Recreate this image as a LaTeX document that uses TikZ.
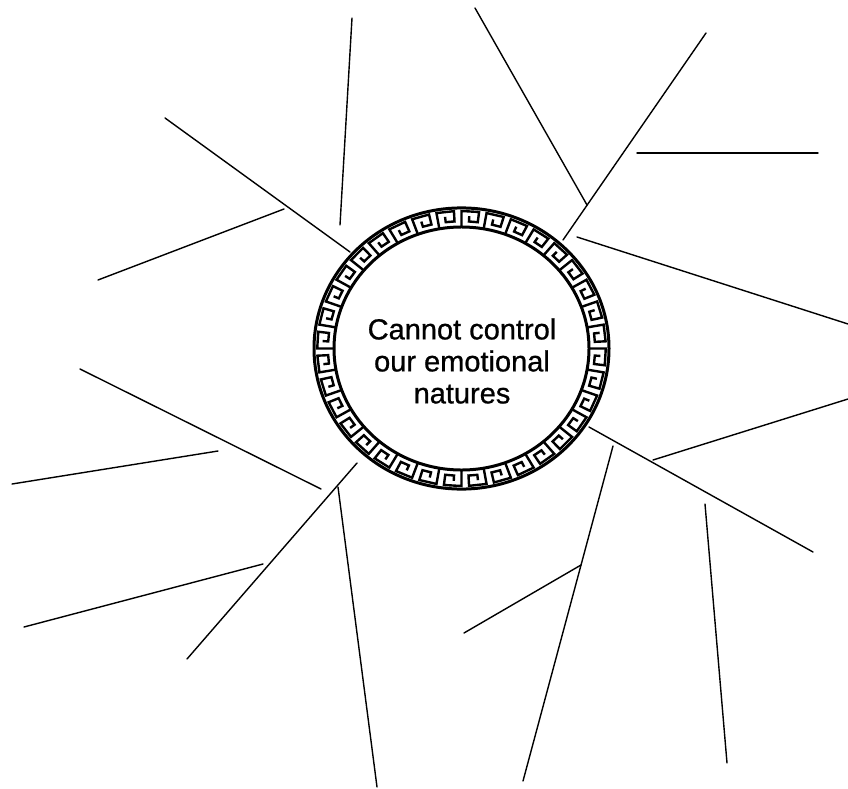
\documentclass[tikz,border=0pt]{standalone}
\usepackage{fontspec}
\setmainfont{Liberation Sans}[FakeBold=0.8]
\begin{document}
\begin{tikzpicture}[x=1pt,y=-1pt,
  ray/.style={line width=1.4pt, line cap=round},
  keyline/.style={line width=2.4pt, line join=miter},
  rim/.style={line width=3pt},
  centretext/.style={font=\fontsize{29}{32}\selectfont, align=center, inner sep=0pt}]
\useasboundingbox (0,0) rectangle (848,789);
\fill[white] (0,0) rectangle (848,789);

% ring with Greek key
\begin{scope}[shift={(461.5,348.5)}, yscale=0.953]
  \draw[rim] (0,0) circle[radius=147.5];
  \draw[rim] (0,0) circle[radius=127.5];
  \foreach \i in {0,...,35}{
    \pgfmathsetmacro\a{\i*10}
    \draw[keyline] (\a:127.5) -- ({\a}:{127.5+0.84*20}) -- ({\a+7}:{127.5+0.84*20})
      -- ({\a+7}:{127.5+0.3*20}) -- ({\a+3.2}:{127.5+0.3*20}) -- ({\a+3.2}:{127.5+0.58*20});
  }
\end{scope}

\node[centretext] (label) at (462,361) {Cannot control\\our emotional\\natures};

% end points
\coordinate (a1) at (352,18);  \coordinate (b1) at (340,225);
\coordinate (a2) at (165,118); \coordinate (b2) at (350,252);
\coordinate (a3) at (98,280);  \coordinate (b3) at (284,209);
\coordinate (a4) at (475,8);   \coordinate (b4) at (587,205);
\coordinate (a5) at (706,33);  \coordinate (b5) at (563,240);
\coordinate (a6) at (637,153); \coordinate (b6) at (818,153);
\coordinate (a7) at (577,237); \coordinate (b7) at (848,324);
\coordinate (a8) at (80,369);  \coordinate (b8) at (321,489);
\coordinate (a9) at (12,484);  \coordinate (b9) at (218,451);
\coordinate (a10) at (357,463); \coordinate (b10) at (187,659);
\coordinate (a11) at (24,627); \coordinate (b11) at (263,564);
\coordinate (a12) at (338,487); \coordinate (b12) at (377,787);
\coordinate (a13) at (653,460); \coordinate (b13) at (848,399);
\coordinate (a14) at (589,427); \coordinate (b14) at (813,552);
\coordinate (a15) at (613,446); \coordinate (b15) at (523,781);
\coordinate (a16) at (581,565); \coordinate (b16) at (464,633);
\coordinate (a17) at (705,504); \coordinate (b17) at (727,763);

\foreach \k in {1,...,17}{
  \draw[ray] (a\k) -- (b\k);
}
\end{tikzpicture}
\end{document}
